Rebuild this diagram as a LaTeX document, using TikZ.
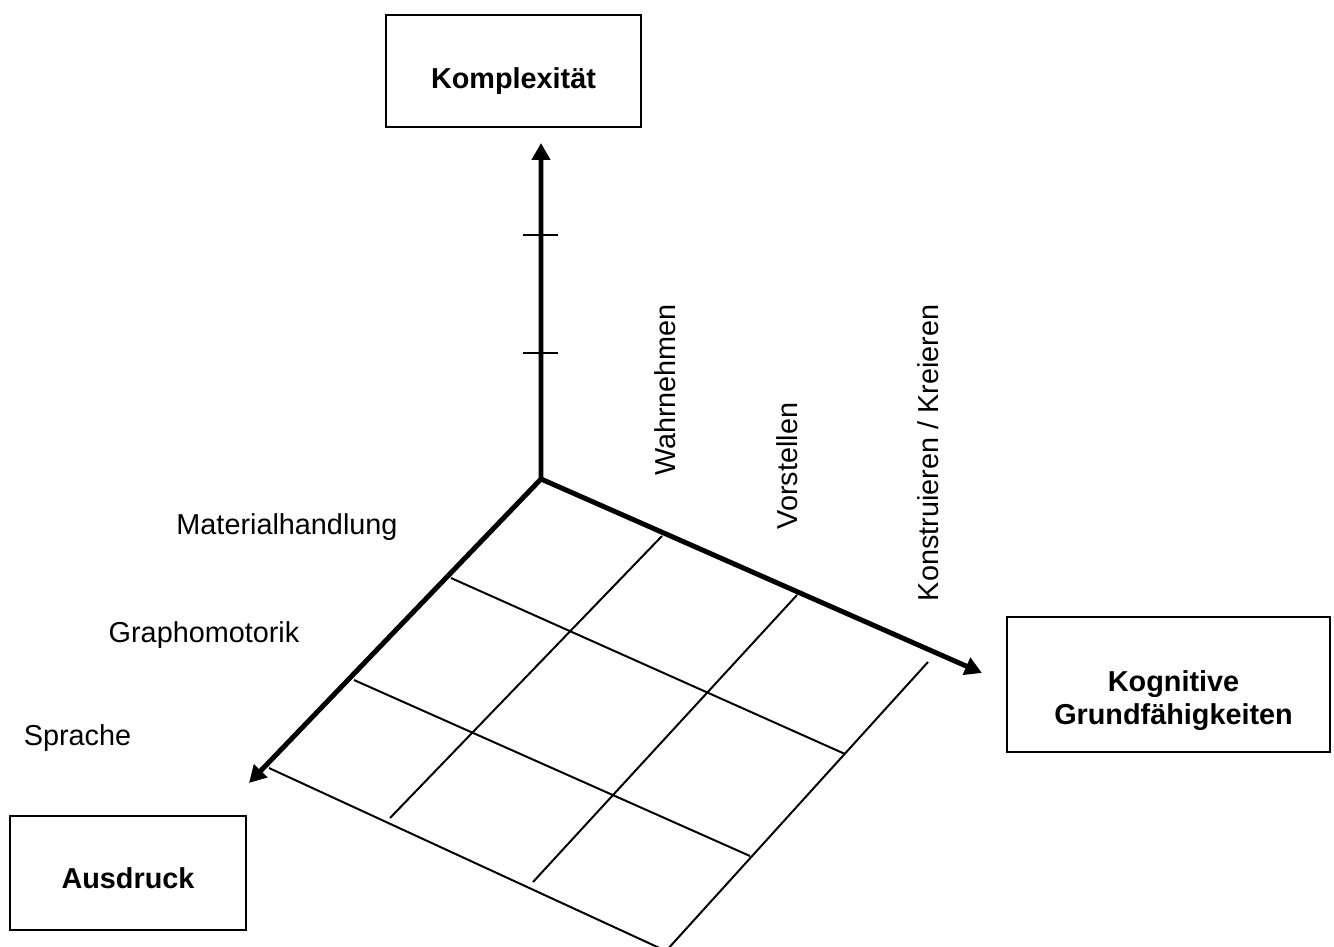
\documentclass[tikz,border=0pt]{standalone}
\usepackage{fontspec}
\setmainfont{Liberation Sans}
\usetikzlibrary{arrows.meta}

\tikzset{
  >={Triangle[width=0.36cm,length=0.34cm]},
  every node/.style={font=\fontsize{16.4}{18.8}\selectfont},
  box/.style={draw,line width=1.13pt,inner sep=0pt},
  boxtext/.style={align=center,inner sep=0pt,
    font=\fontsize{16.4}{18.8}\selectfont\bfseries},
  axis/.style={line width=2.83pt,line join=miter},
  gridline/.style={line width=1.13pt},
  dim/.style={inner sep=0pt}
}

\begin{document}
\begin{tikzpicture}[x=0.02cm,y=-0.02cm]
  \useasboundingbox (0,0) rectangle (1334,946);

  % dimension boxes
  \node[box,minimum width=5.1cm,minimum height=2.24cm] (kompl) at (513.5,71) {};
  \node[box,minimum width=6.46cm,minimum height=2.7cm] (kogn) at (1168.5,684.5) {};
  \node[box,minimum width=4.72cm,minimum height=2.28cm] (ausdr) at (128,873) {};
  \node[boxtext,yshift=-0.2cm] (komplt) at (kompl) {Komplexität};
  \node[boxtext,xshift=0.1cm,yshift=-0.32cm] (kognt) at (kogn) {Kognitive\\Grundfähigkeiten};
  \node[boxtext,yshift=-0.1cm] (ausdrt) at (ausdr) {Ausdruck};

  % axes
  \coordinate (o) at (541,479);
  \coordinate (up) at (541,143);
  \coordinate (right) at (982,673);
  \coordinate (left) at (249,783);
  \draw[axis,<->] (up) -- (o) -- (right);
  \draw[axis,->] (o) -- (left);
  \foreach \y in {235,353}
    \draw[gridline] (523,\y) -- (558,\y);

  % grid
  \foreach \xa/\ya/\xb/\yb in {451/578/845/754, 354/680/750/856, 269/768/666/951,
                               662/536/390/818, 797/595/533/882, 928/662/666/951}
    \draw[gridline] (\xa,\ya) -- (\xb,\yb);

  % labels
  \node[dim] (mat) at (287,527) {Materialhandlung};
  \node[dim] (graph) at (204,635) {Graphomotorik};
  \node[dim] (spr) at (77.5,738) {Sprache};
  \node[dim,rotate=90] (wahr) at (665,390) {Wahrnehmen};
  \node[dim,rotate=90] (vorst) at (787,466) {Vorstellen};
  \node[dim,rotate=90] (konst) at (928,453) {Konstruieren / Kreieren};
\end{tikzpicture}
\end{document}
